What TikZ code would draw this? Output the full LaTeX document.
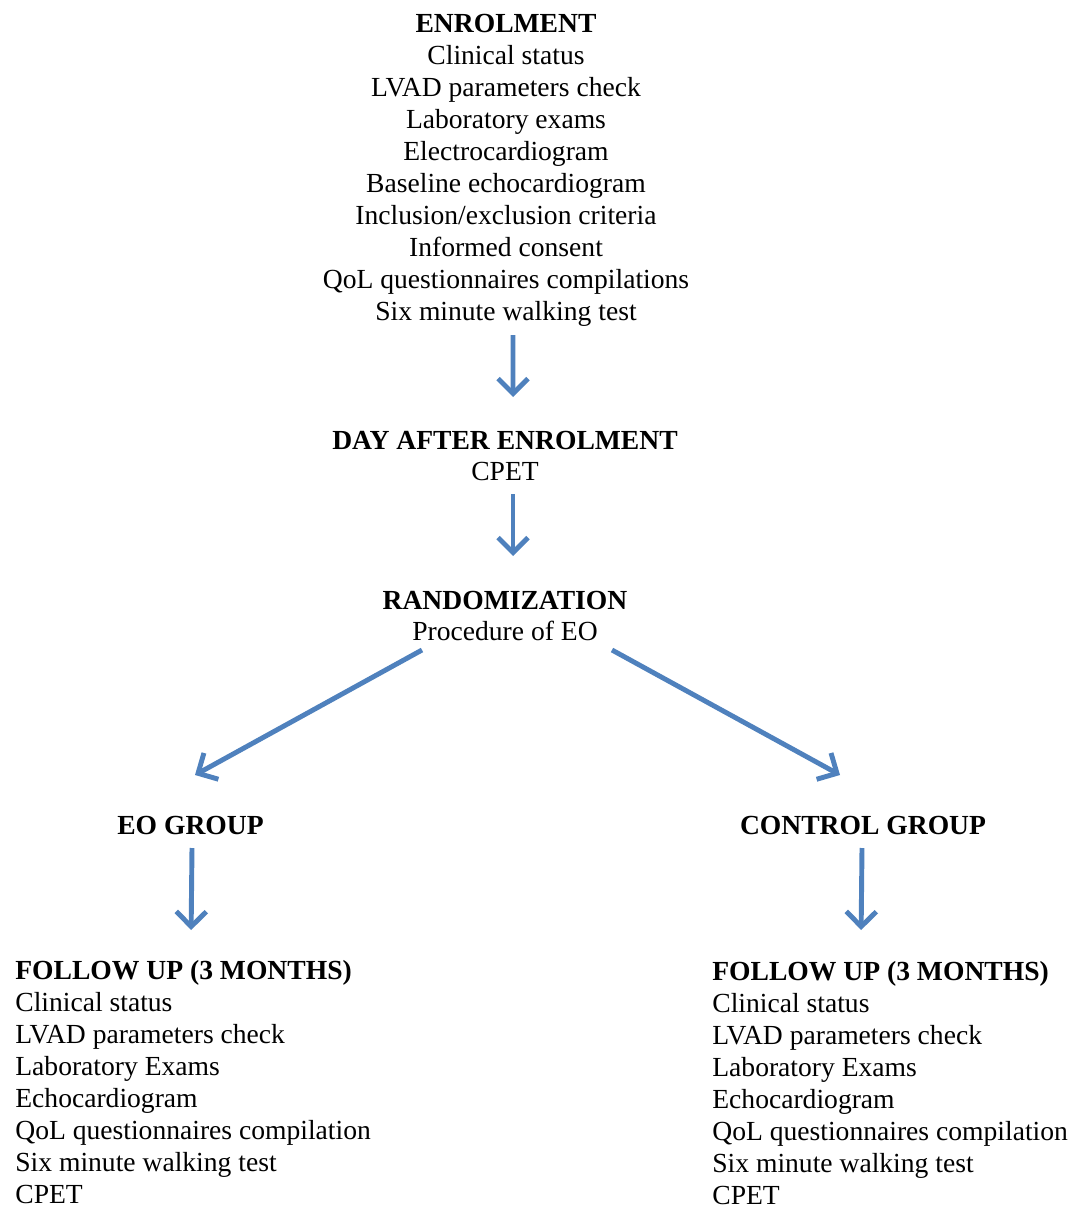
\documentclass[tikz,border=0pt]{standalone}
\usepackage{fontspec}
\setmainfont{Liberation Serif}
\usetikzlibrary{arrows.meta}
\definecolor{flowblue}{HTML}{4F81BD}
\tikzset{txt/.style={inner sep=0pt,font=\fontsize{15.7}{18.2}\selectfont},
	centred/.style={txt,align=center},
	lefted/.style={txt,align=left,anchor=west},
	flow/.style={draw=flowblue,line width=2.8pt,
		-{Straight Barb[length=0.3cm,width=0.6cm,line width=2.8pt]}}}
\begin{document}
\begin{tikzpicture}
\useasboundingbox (0,0) rectangle (21.5,-24.14);
\node [centred] (enrol) at (10.12,-3.4) {\textbf{ENROLMENT}\\Clinical status\\LVAD parameters check\\Laboratory exams\\Electrocardiogram\\Baseline echocardiogram\\Inclusion/exclusion criteria\\Informed consent\\QoL questionnaires compilations\\Six minute walking test};
\node [centred] (day) at (10.1,-9.12) {\textbf{DAY AFTER ENROLMENT}\\CPET};
\node [centred] (rand) at (10.1,-12.32) {\textbf{RANDOMIZATION}\\Procedure of EO};
\node [centred] (eo) at (3.81,-16.5) {\textbf{EO GROUP}};
\node [centred] (ctrl) at (17.26,-16.5) {\textbf{CONTROL GROUP}};
\node [lefted] (fuL) at (0.3,-21.64) {\textbf{FOLLOW UP (3 MONTHS)}\\Clinical status\\LVAD parameters check\\Laboratory Exams\\Echocardiogram\\QoL questionnaires compilation\\Six minute walking test\\CPET};
\node [lefted] (fuR) at (14.24,-21.66) {\textbf{FOLLOW UP (3 MONTHS)}\\Clinical status\\LVAD parameters check\\Laboratory Exams\\Echocardiogram\\QoL questionnaires compilation\\Six minute walking test\\CPET};
\draw [flow] ([shift={(0.14,-3.3)}]enrol.center) -- ([shift={(0.16,1.18)}]day.center);
\draw [flow] ([shift={(0.16,-0.76)}]day.center) -- ([shift={(0.16,1.2)}]rand.center);
\draw [flow] ([shift={(-1.66,-0.68)}]rand.center) -- ([shift={(0.09,1.0)}]eo.center);
\draw [flow] ([shift={(2.14,-0.68)}]rand.center) -- ([shift={(-0.46,1.0)}]ctrl.center);
\draw [flow] ([shift={(0.03,-0.46)}]eo.center) -- ([shift={(-0.04,0.6)}]fuL.north);
\draw [flow] ([shift={(-0.02,-0.46)}]ctrl.center) -- ([shift={(-0.58,0.62)}]fuR.north);
\end{tikzpicture}
\end{document}
